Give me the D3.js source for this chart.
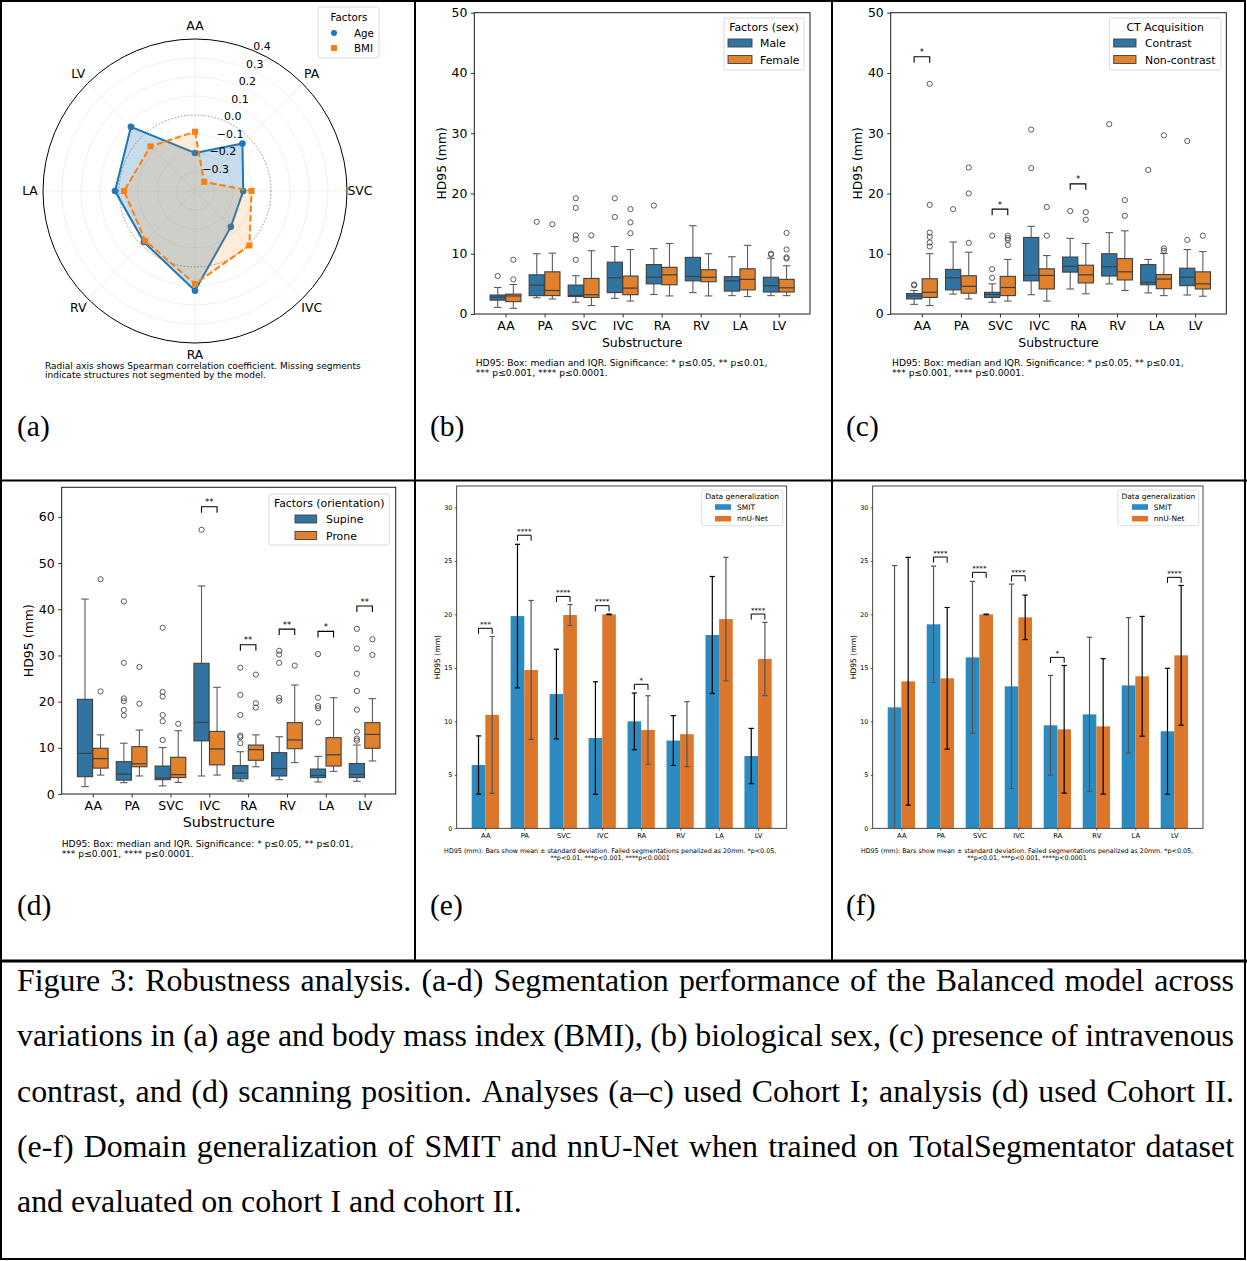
<!DOCTYPE html>
<html><head><meta charset="utf-8">
<script src="https://cdn.jsdelivr.net/npm/d3@7"></script>
<style>body{margin:0;background:#fff}svg{display:block}</style>
</head><body>
<svg id="fig" width="1247" height="1261"></svg>
<script>
// ---------------- DATA ----------------
const categories = ["AA","PA","SVC","IVC","RA","RV","LA","LV"];

// (a) radar: Spearman correlation
const radarTicks = [-0.3,-0.2,-0.1,0.0,0.1,0.2,0.3,0.4];
const radarAge = [-0.20,-0.047,-0.146,-0.133,0.125,-0.02,0.021,0.077];
const radarBMI = [-0.088,-0.332,-0.102,0.005,0.089,-0.03,-0.026,-0.068];

// box stats: [whisker low, q1, median, q3, whisker high]
const sexMale = [[1.1,2.3,2.8,3.15,4.4],[2.7,3.05,4.8,6.5,10.0],[1.95,2.9,3.1,4.8,6.35],[2.6,3.55,6.0,8.6,11.2],[3.25,5.0,6.1,8.2,10.85],[3.55,5.5,6.25,9.4,14.65],[3.05,3.8,5.5,6.2,9.5],[3.05,3.65,4.7,6.1,9.25]];
const sexMaleOut = [[6.3],[15.3],[9.0,12.4,13.05,17.6,19.2],[16.1,19.2],[18.0],[],[],[9.85,10.0]];
const sexFemale = [[0.95,2.05,3.0,3.3,4.9],[2.5,3.05,3.9,7.0,10.1],[1.4,2.75,3.2,5.9,10.5],[2.15,3.2,4.3,6.3,10.7],[3.0,4.85,6.5,7.75,11.7],[3.0,5.35,6.1,7.35,10.0],[2.9,4.0,5.75,7.5,11.4],[3.05,3.65,4.35,5.75,8.0]];
const sexFemaleOut = [[5.75,9.0],[14.9],[13.05],[13.4,15.2,17.4],[],[],[],[9.2,9.4,10.7,13.45]];

const ctContrast = [[1.6,2.5,3.0,3.4,3.9],[3.3,4.0,6.0,7.4,11.95],[1.95,2.75,3.25,3.6,5.0],[3.2,5.5,6.4,12.7,14.55],[4.15,6.95,7.9,9.45,12.55],[5.0,6.3,7.85,10.0,13.5],[3.5,4.85,5.25,8.2,9.05],[3.15,4.7,6.1,7.6,10.7]];
const ctContrastOut = [[4.75,4.9],[17.4],[6.0,7.45,13.0],[24.2,30.6],[17.1],[31.5],[23.9],[12.3,28.7]];
const ctNon = [[1.4,2.75,3.6,5.85,10.0],[2.5,3.45,4.6,6.35,10.25],[2.15,3.05,4.4,6.25,9.05],[2.15,4.15,6.4,7.5,9.7],[3.35,5.15,6.5,8.1,11.7],[3.9,5.65,7.0,9.2,13.8],[3.05,4.2,5.8,6.55,10.05],[2.95,4.15,5.0,7.0,10.35]];
const ctNonOut = [[11.2,11.85,12.8,13.5,18.1,38.2],[11.8,20.0,24.3],[11.45,12.3,12.6,13.0],[13.0,17.75],[15.65,16.9],[16.3,18.9],[10.5,10.9,29.65],[13.0]];
const ctSig = [[0,42.7,"*"],[2,17.4,"*"],[4,21.6,"*"]];

const posSupine = [[1.6,3.75,8.8,20.5,42.2],[2.45,3.0,4.3,7.0,11.0],[1.75,3.1,3.45,6.05,10.05],[3.9,11.5,15.5,28.3,45.05],[2.8,3.3,4.55,6.15,9.15],[3.1,3.9,5.5,8.95,12.4],[2.6,3.55,4.05,5.4,8.15],[2.75,3.55,4.25,6.6,10.6]];
const posSupineOut = [[],[17.0,18.2,20.1,20.7,28.4,41.7],[11.7,15.75,17.1,21.1,22.1,36.0],[57.2],[11.0,12.3,12.65,17.1,21.45,27.35],[20.2,20.8,28.4,30.2,31.0],[15.5,18.55,19.05,20.85,30.3],[11.55,12.0,13.5,18.25,22.3,26.05,31.5,35.75]];
const posProne = [[4.1,5.6,7.65,9.9,12.8],[3.9,5.9,6.55,10.25,13.85],[2.5,3.55,4.2,7.95,13.7],[4.1,6.3,9.75,13.55,23.1],[5.9,7.3,9.6,10.6,12.8],[6.8,9.8,11.7,15.45,23.6],[4.9,6.05,8.5,12.2,20.85],[7.15,9.9,12.9,15.45,20.65]];
const posProneOut = [[22.2,46.5],[19.55,27.5],[15.2],[],[18.7,19.65,25.85],[27.8],[],[30.1,33.5]];
const posSig = [[3,62.2,"**"],[4,32.3,"**"],[5,35.7,"**"],[6,35.2,"*"],[7,40.7,"**"]];

// (e) cohort I: mean and std
const smitE = [5.92,19.84,12.55,8.44,10.0,8.2,18.07,6.76];
const smitESd = [2.72,6.71,4.19,5.26,2.65,2.33,5.47,2.58];
const nnunetE = [10.6,14.8,19.94,20.0,9.19,8.8,19.56,15.83];
const nnunetESd = [7.33,6.5,0.98,0.03,3.2,3.04,5.77,3.43];
const sigE = [[0,18.7,"***"],[1,27.4,"****"],[2,21.68,"****"],[3,20.81,"****"],[4,13.46,"*"],[7,20.03,"****"]];
// (f) cohort II
const smitF = [11.31,19.07,15.98,13.27,9.63,10.65,13.36,9.07];
const smitFSd = [13.24,5.44,7.1,9.55,4.66,7.21,6.34,5.89];
const nnunetF = [13.74,14.02,20.0,19.72,9.25,9.53,14.21,16.17];
const nnunetFSd = [11.58,6.62,0.03,2.08,5.97,6.33,5.6,6.53];
const sigF = [[1,25.36,"****"],[2,23.93,"****"],[3,23.61,"****"],[4,15.98,"*"],[7,23.46,"****"]];

const boxTicks = [0,10,20,30,40,50];
const posTicks = [0,10,20,30,40,50,60];
const barTicks = [0,5,10,15,20,25,30];

// ---------------- DRAWING ----------------
const svg = d3.select("#fig");
const SANS = "DejaVu Sans", SERIF = "Liberation Serif";
const BLUE = "#3274a1", ORANGE = "#e1812c";
const BBLUE = "#2b8ac0", BORANGE = "#dc762a";

function txt(g, x, y, s, fs, opt={}) {
  const t = g.append("text").attr("x",x).attr("y",y).text(s)
    .attr("font-family", opt.family||SANS).attr("font-size",fs).attr("fill","#000");
  if (opt.anchor) t.attr("text-anchor",opt.anchor);
  if (opt.rotate) t.attr("transform",`rotate(${opt.rotate},${x},${y})`);
  return t;
}
function fitWidth(sel, w) {
  const fs = +sel.attr("font-size");
  const cw = sel.node().getComputedTextLength();
  const nf = fs*w/cw; sel.attr("font-size", nf); return nf;
}
function styleAxis(sel, fs, tw) {
  sel.select(".domain").remove();
  sel.attr("font-family",SANS).attr("font-size",fs);
  sel.selectAll(".tick line").attr("stroke","#000").attr("stroke-width",tw||0.8);
  sel.selectAll(".tick text").attr("fill","#000");
}

// ---- (a) radar ----
(function(){
  const g = svg.append("g");
  const cx=195, cy=191, R=152;
  const r = d3.scaleLinear().domain([-0.4,0.4]).range([0,R]);
  const ang = i => i*Math.PI/4;
  const pt = (i,v) => [cx + r(v)*Math.sin(ang(i)), cy - r(v)*Math.cos(ang(i))];
  radarTicks.slice(0,-1).forEach(t=> g.append("circle").attr("cx",cx).attr("cy",cy).attr("r",r(t))
      .attr("fill","none").attr("stroke","#ececec").attr("stroke-width",0.8));
  categories.forEach((c,i)=>{ const p=pt(i,0.4);
    g.append("line").attr("x1",cx).attr("y1",cy).attr("x2",p[0]).attr("y2",p[1]).attr("stroke","#ececec").attr("stroke-width",0.8); });
  g.append("circle").attr("cx",cx).attr("cy",cy).attr("r",r(0)).attr("fill","none")
    .attr("stroke","#8a8a8a").attr("stroke-width",1).attr("stroke-dasharray","1.2,2.2");
  const line = d3.line().curve(d3.curveLinearClosed);
  const agePts = radarAge.map((v,i)=>pt(i,v)), bmiPts = radarBMI.map((v,i)=>pt(i,v));
  g.append("path").attr("d",line(agePts)).attr("fill","rgba(31,119,180,0.25)");
  g.append("path").attr("d",line(agePts)).attr("fill","none").attr("stroke","#1f77b4").attr("stroke-width",2);
  agePts.forEach(p=>g.append("circle").attr("cx",p[0]).attr("cy",p[1]).attr("r",3.3).attr("fill","#1f77b4"));
  g.append("path").attr("d",line(bmiPts)).attr("fill","rgba(255,127,14,0.15)");
  g.append("path").attr("d",line(bmiPts)).attr("fill","none").attr("stroke","#ff7f0e").attr("stroke-width",2).attr("stroke-dasharray","6.5,3");
  bmiPts.forEach(p=>g.append("rect").attr("x",p[0]-3).attr("y",p[1]-3).attr("width",6).attr("height",6).attr("fill","#ff7f0e"));
  g.append("circle").attr("cx",cx).attr("cy",cy).attr("r",R).attr("fill","none").attr("stroke","#000").attr("stroke-width",1);
  categories.forEach((c,i)=>{ const a=ang(i);
    const dy = (i===4) ? 2.5 : 4;
    txt(g, cx+165*Math.sin(a), cy-165*Math.cos(a)+dy, c, 12.4, {anchor:"middle"}); });
  const la = Math.PI/8;
  radarTicks.forEach(t=>{ const rv=r(t);
    txt(g, cx+rv*Math.sin(la), cy-rv*Math.cos(la)-0.5, d3.format(".1f")(t).replace("-","\u2212"), 11); });
  // legend
  g.append("rect").attr("x",318).attr("y",7).attr("width",61).attr("height",51).attr("rx",2)
    .attr("fill","#fff").attr("fill-opacity",0.8).attr("stroke","#d0d0d0").attr("stroke-width",0.8);
  txt(g, 349, 21, "Factors", 10.3, {anchor:"middle"});
  g.append("circle").attr("cx",334).attr("cy",33).attr("r",3).attr("fill","#1f77b4");
  g.append("rect").attr("x",331).attr("y",45).attr("width",6).attr("height",6).attr("fill","#ff7f0e");
  txt(g, 354, 36.8, "Age", 10.3); txt(g, 354, 51.8, "BMI", 10.3);
  const n1 = txt(g, 45, 368.5, "Radial axis shows Spearman correlation coefficient. Missing segments", 8.5);
  const f = fitWidth(n1, 316);
  txt(g, 45, 378, "indicate structures not segmented by the model.", f);
})();

// ---- box panels ----
function boxPanel(o) {
  const g = svg.append("g");
  const x = d3.scaleLinear().domain([-0.8,7.8]).range([o.left,o.right]);
  const y = d3.scaleLinear().domain([0,o.ymax]).range([o.bottom,o.top]);
  g.append("g").attr("transform",`translate(${o.left},0)`)
    .call(d3.axisLeft(y).tickValues(o.yticks).tickSize(3.5).tickPadding(3.5)).call(styleAxis, o.fs);
  g.append("g").attr("transform",`translate(0,${o.bottom})`)
    .call(d3.axisBottom(x).tickValues(d3.range(8)).tickFormat(i=>categories[i]).tickSize(3.5).tickPadding(3.5)).call(styleAxis, o.fs);
  const bw = 0.39;
  o.groups.forEach((grp,gi)=>{
    const off = gi===0 ? -0.2 : 0.2;
    grp.stats.forEach((s,i)=>{
      const cx = x(i+off), half = (x(bw)-x(0))/2, cap = half*0.5;
      const [lo,q1,md,q3,hi] = s;
      const lc = "#5c5c5c", bc = "#404040";
      g.append("line").attr("x1",cx).attr("x2",cx).attr("y1",y(q1)).attr("y2",y(lo)).attr("stroke",lc).attr("stroke-width",1.1);
      g.append("line").attr("x1",cx).attr("x2",cx).attr("y1",y(q3)).attr("y2",y(hi)).attr("stroke",lc).attr("stroke-width",1.1);
      [lo,hi].forEach(v=>g.append("line").attr("x1",cx-cap).attr("x2",cx+cap).attr("y1",y(v)).attr("y2",y(v)).attr("stroke",lc).attr("stroke-width",1.1));
      g.append("rect").attr("x",cx-half).attr("width",2*half).attr("y",y(q3)).attr("height",y(q1)-y(q3))
        .attr("fill",grp.color).attr("stroke",bc).attr("stroke-width",1.1);
      g.append("line").attr("x1",cx-half).attr("x2",cx+half).attr("y1",y(md)).attr("y2",y(md)).attr("stroke",bc).attr("stroke-width",1.2);
      grp.out[i].forEach(v=>g.append("circle").attr("cx",cx).attr("cy",y(v)).attr("r",2.6)
        .attr("fill","none").attr("stroke","#4a4a4a").attr("stroke-width",0.9));
    });
  });
  (o.sig||[]).forEach(([i,v,s])=>{
    const x1=x(i-0.2), x2=x(i+0.2), yt=y(v);
    g.append("path").attr("d",`M${x1},${yt+6}V${yt}H${x2}V${yt+6}`).attr("fill","none").attr("stroke","#000").attr("stroke-width",1.1);
    txt(g, (x1+x2)/2, yt-1.5, s, 8.5, {anchor:"middle"});
  });
  g.append("rect").attr("x",o.left).attr("y",o.top).attr("width",o.right-o.left).attr("height",o.bottom-o.top)
    .attr("fill","none").attr("stroke","#1a1a1a").attr("stroke-width",1);
  // labels
  txt(g, o.ylabX, (o.top+o.bottom)/2, "HD95 (mm)", o.fs, {anchor:"middle", rotate:-90}).attr("dy","0.35em");
  txt(g, (o.left+o.right)/2 + o.xlabDx, o.xlabY, "Substructure", o.xlabFs, {anchor:"middle"});
  // legend
  const L = o.legend;
  g.append("rect").attr("x",L.x).attr("y",L.y).attr("width",L.w).attr("height",L.h).attr("rx",2)
    .attr("fill","#fff").attr("fill-opacity",0.8).attr("stroke","#d0d0d0").attr("stroke-width",0.8);
  txt(g, L.x+L.w/2, L.y+13, L.title, 10.9, {anchor:"middle"});
  o.groups.forEach((grp,gi)=>{
    const yy = L.y + 25 + gi*16.5;
    g.append("rect").attr("x",L.px).attr("y",yy-4).attr("width",L.pw).attr("height",8)
      .attr("fill",grp.color).attr("stroke","#404040").attr("stroke-width",0.9);
    txt(g, L.tx, yy+4, grp.name, 10.9);
  });
  const c1 = txt(g, o.noteX, o.noteY, "HD95: Box: median and IQR. Significance: * p\u22640.05, ** p\u22640.01,", 8.5);
  const f = fitWidth(c1, 292);
  txt(g, o.noteX, o.noteY+10, "*** p\u22640.001, **** p\u22640.0001.", f);
}

boxPanel({left:474.3,right:810,top:12.7,bottom:314,ymax:50,yticks:boxTicks,fs:12.4,
  groups:[{name:"Male",color:BLUE,stats:sexMale,out:sexMaleOut},{name:"Female",color:ORANGE,stats:sexFemale,out:sexFemaleOut}],
  ylabX:442, xlabY:346.5, xlabDx:0, xlabFs:12.5,
  legend:{x:724,y:18,w:80,h:52,title:"Factors (sex)",px:728,pw:24,tx:760},
  noteX:475.7, noteY:366});

boxPanel({left:890.7,right:1226.3,top:12.7,bottom:314,ymax:50,yticks:boxTicks,fs:12.4,
  groups:[{name:"Contrast",color:BLUE,stats:ctContrast,out:ctContrastOut},{name:"Non-contrast",color:ORANGE,stats:ctNon,out:ctNonOut}],
  sig:ctSig, ylabX:858, xlabY:346.5, xlabDx:0, xlabFs:12.5,
  legend:{x:1109.3,y:18,w:111.7,h:52,title:"CT Acquisition",px:1113.7,pw:22.3,tx:1145},
  noteX:892, noteY:366});

boxPanel({left:61.7,right:395.7,top:487.3,bottom:794,ymax:66.4,yticks:posTicks,fs:12.5,
  groups:[{name:"Supine",color:BLUE,stats:posSupine,out:posSupineOut},{name:"Prone",color:ORANGE,stats:posProne,out:posProneOut}],
  sig:posSig, ylabX:28.5, xlabY:827, xlabDx:0, xlabFs:14.3,
  legend:{x:269,y:494,w:120.3,h:51,title:"Factors (orientation)",px:295,pw:21.7,tx:326},
  noteX:61.7, noteY:846.5});

// ---- bar panels ----
function barPanel(o) {
  const g = svg.append("g");
  const x = d3.scaleLinear().domain([-0.735,7.735]).range([o.left,o.right]);
  const y = d3.scaleLinear().domain([0,32]).range([o.bottom,o.top]);
  const clipId = "clip"+o.id;
  g.append("clipPath").attr("id",clipId).append("rect").attr("x",o.left).attr("y",o.top)
    .attr("width",o.right-o.left).attr("height",o.bottom-o.top);
  g.append("g").attr("transform",`translate(${o.left},0)`)
    .call(d3.axisLeft(y).tickValues(barTicks).tickSize(2.2).tickPadding(2.2)).call(styleAxis, 6.4, 0.6);
  g.append("g").attr("transform",`translate(0,${o.bottom})`)
    .call(d3.axisBottom(x).tickValues(d3.range(8)).tickFormat(i=>categories[i]).tickSize(2.2).tickPadding(2.2)).call(styleAxis, 6.8, 0.6);
  const series = [{name:"SMIT",color:BBLUE,m:o.smit,sd:o.smitSd,off:-0.35,err:o.errA},
                  {name:"nnU-Net",color:BORANGE,m:o.nnu,sd:o.nnuSd,off:0,err:o.errB}];
  const bars = g.append("g").attr("clip-path",`url(#${clipId})`);
  series.forEach(s=>{
    s.m.forEach((v,i)=>{
      bars.append("rect").attr("x",x(i+s.off)).attr("width",x(0.35)-x(0)).attr("y",y(v)).attr("height",y(0)-y(v)).attr("fill",s.color);
    });
  });
  series.forEach(s=>{
    s.m.forEach((v,i)=>{
      const cx = x(i+s.off+0.175), lo=v-s.sd[i], hi=v+s.sd[i], col=s.err[i];
      bars.append("line").attr("x1",cx).attr("x2",cx).attr("y1",y(lo)).attr("y2",y(hi)).attr("stroke",col).attr("stroke-width",1.2);
      [lo,hi].forEach(e=>{ if (e>0) bars.append("line").attr("x1",cx-2.6).attr("x2",cx+2.6).attr("y1",y(e)).attr("y2",y(e)).attr("stroke",col).attr("stroke-width",1.2); });
    });
  });
  o.sig.forEach(([i,v,s])=>{
    const x1=x(i-0.175), x2=x(i+0.175), yt=y(v);
    g.append("path").attr("d",`M${x1},${yt+5.6}V${yt}H${x2}V${yt+5.6}`).attr("fill","none").attr("stroke","#000").attr("stroke-width",1);
    txt(g, (x1+x2)/2, yt-1.2, s, 7.2, {anchor:"middle"});
  });
  g.append("rect").attr("x",o.left).attr("y",o.top).attr("width",o.right-o.left).attr("height",o.bottom-o.top)
    .attr("fill","none").attr("stroke","#1a1a1a").attr("stroke-width",0.8);
  txt(g, o.left-19, (o.top+o.bottom)/2, "HD95 (mm)", 7.6, {anchor:"middle", rotate:-90}).attr("dy","0.35em");
  // legend
  const L = o.legend;
  g.append("rect").attr("x",L.x).attr("y",L.y).attr("width",L.w).attr("height",L.h).attr("rx",1.5)
    .attr("fill","#fff").attr("fill-opacity",0.8).attr("stroke","#d0d0d0").attr("stroke-width",0.7);
  txt(g, L.x+L.w/2, L.y+8.8, "Data generalization", 7.5, {anchor:"middle"});
  series.forEach((s,k)=>{
    const yy = L.y + 17 + k*11.7;
    g.append("rect").attr("x",L.px).attr("y",yy-2.8).attr("width",16).attr("height",5.6).attr("fill",s.color);
    txt(g, L.tx, yy+2.6, s.name, 7.5);
  });
  const c1 = txt(g, o.noteCx, o.noteY, "HD95 (mm): Bars show mean \u00b1 standard deviation. Failed segmentations penalized as 20mm. *p<0.05,", 6.2, {anchor:"middle"});
  const f = fitWidth(c1, 331.7);
  txt(g, o.noteCx, o.noteY+7.5, "**p<0.01, ***p<0.001, ****p<0.0001", f, {anchor:"middle"});
}
const G = "#555", K = "#000";
barPanel({id:"e",left:456.7,right:786.7,top:486,bottom:828.3,smit:smitE,smitSd:smitESd,nnu:nnunetE,nnuSd:nnunetESd,sig:sigE,
  errA:[K,K,K,K,K,K,K,K], errB:[G,G,G,K,G,G,G,G],
  legend:{x:701.7,y:490,w:81,h:35.7,px:715,tx:737}, noteCx:610.2, noteY:852.5});
barPanel({id:"f",left:872.7,right:1203,top:486,bottom:828.3,smit:smitF,smitSd:smitFSd,nnu:nnunetF,nnuSd:nnunetFSd,sig:sigF,
  errA:[G,G,G,G,G,G,G,K], errB:[K,K,K,K,K,K,K,K],
  legend:{x:1118,y:490,w:80.7,h:35.7,px:1132,tx:1153.7}, noteCx:1027, noteY:852.5});

// ---- table frame & panel labels ----
const fr = svg.append("g").attr("stroke","#000").attr("fill","none");
fr.append("rect").attr("x",1).attr("y",1).attr("width",1244).attr("height",1258).attr("stroke-width",2);
fr.append("line").attr("x1",415).attr("x2",415).attr("y1",0).attr("y2",961).attr("stroke-width",2);
fr.append("line").attr("x1",832).attr("x2",832).attr("y1",0).attr("y2",961).attr("stroke-width",2);
fr.append("line").attr("x1",0).attr("x2",1247).attr("y1",480.5).attr("y2",480.5).attr("stroke-width",2);
fr.append("line").attr("x1",0).attr("x2",1247).attr("y1",961).attr("y2",961).attr("stroke-width",3);
[["(a)",17,436],["(b)",430,436],["(c)",846,436],["(d)",17,915],["(e)",430,915],["(f)",846,915]]
  .forEach(([s,x0,y0])=>txt(svg,x0,y0,s,29.5,{family:SERIF}));

// ---- caption (justified) ----
const capLines = [
  "Figure 3: Robustness analysis. (a-d) Segmentation performance of the Balanced model across",
  "variations in (a) age and body mass index (BMI), (b) biological sex, (c) presence of intravenous",
  "contrast, and (d) scanning position. Analyses (a\u2013c) used Cohort I; analysis (d) used Cohort II.",
  "(e-f) Domain generalization of SMIT and nnU-Net when trained on TotalSegmentator dataset",
  "and evaluated on cohort I and cohort II."
];
(function(){
  const probe = txt(svg, 17, 1212, capLines[4], 29, {family:SERIF});
  const fs = fitWidth(probe, 505);
  probe.remove();
  const L=17, Rr=1234;
  capLines.forEach((line,li)=>{
    const yb = 991 + li*55.3;
    if (li===4) { txt(svg, L, yb, line, fs, {family:SERIF}); return; }
    const words = line.split(" ");
    const widths = words.map(w=>{ const t=txt(svg,0,-50,w,fs,{family:SERIF}); const v=t.node().getComputedTextLength(); t.remove(); return v; });
    const total = d3.sum(widths);
    const gap = (Rr-L-total)/(words.length-1);
    let xx = L;
    words.forEach((w,k)=>{ txt(svg, xx, yb, w, fs, {family:SERIF}); xx += widths[k]+gap; });
  });
})();
</script>
</body></html>
